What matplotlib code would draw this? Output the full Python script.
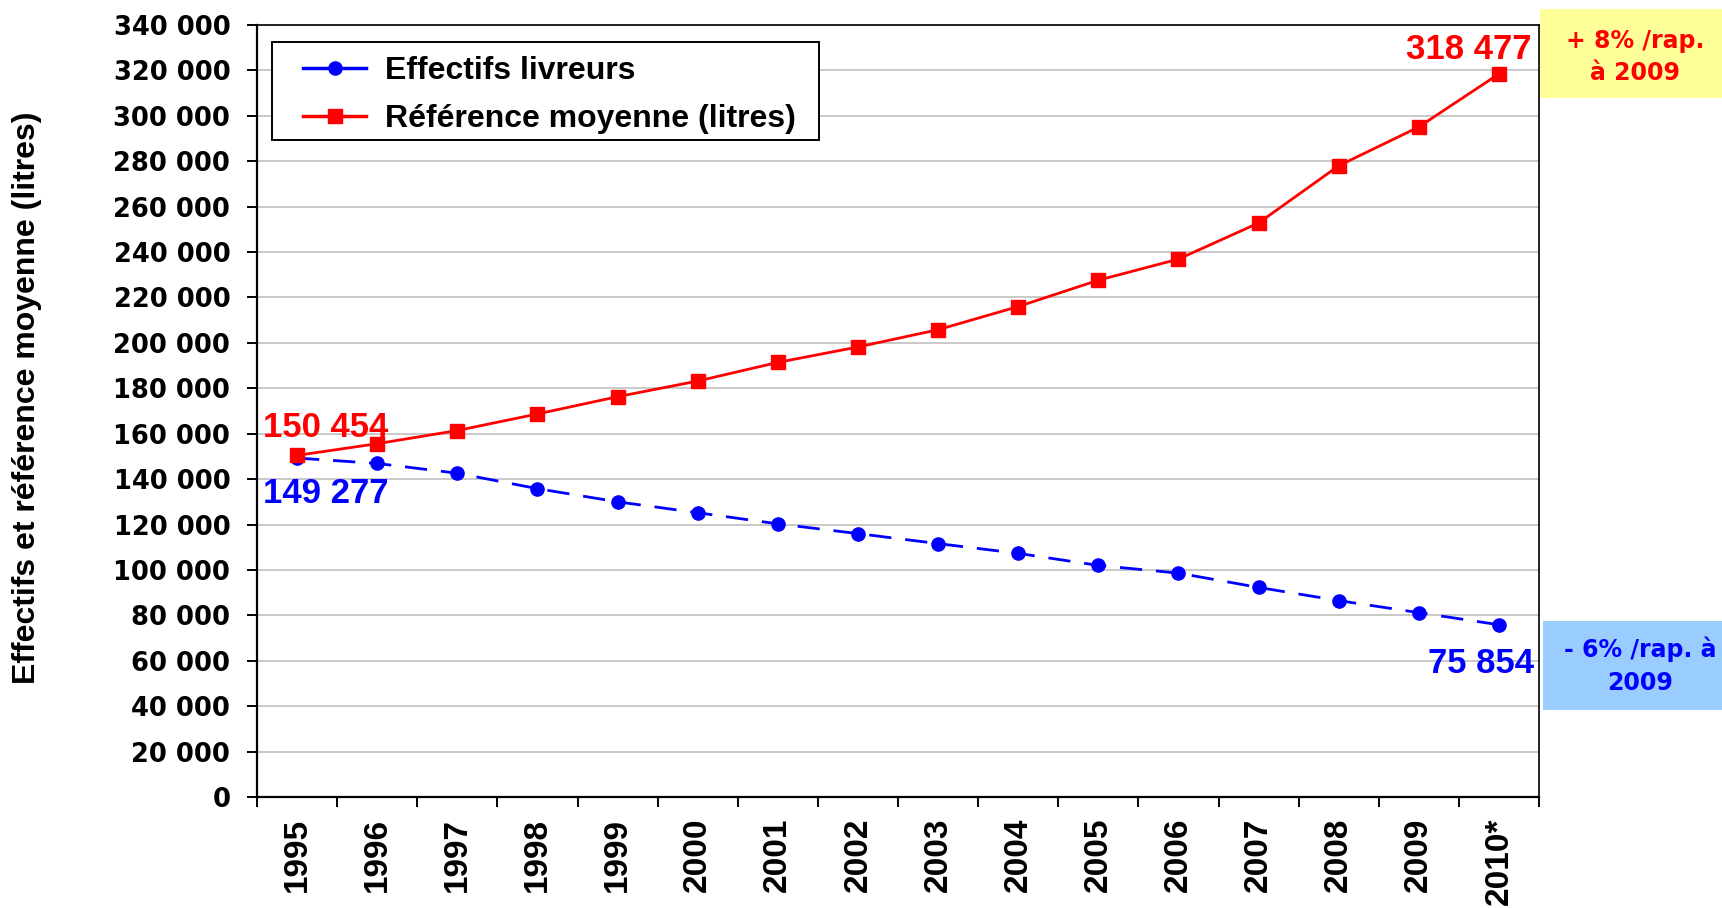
import matplotlib
matplotlib.use("Agg")
import matplotlib.pyplot as plt
from matplotlib.patches import Rectangle
from matplotlib.lines import Line2D

# data
years = ['1995', '1996', '1997', '1998', '1999', '2000', '2001', '2002',
         '2003', '2004', '2005', '2006', '2007', '2008', '2009', '2010*']
effectifs = [149277, 146900, 142600, 135800, 130000, 125200, 120300, 116000,
             111600, 107300, 102000, 98600, 92300, 86500, 81200, 75854]
reference = [150454, 155600, 161400, 168700, 176300, 183200, 191400, 198200,
             205800, 216000, 227600, 236900, 252800, 278000, 295100, 318477]
y_ticks = list(range(0, 340001, 20000))

plt.rcParams['font.family'] = ['Liberation Sans', 'DejaVu Sans']
plt.rcParams['font.weight'] = 'bold'

W, H = 1722, 908
fig = plt.figure(figsize=(W / 100, H / 100), dpi=100)
ax = fig.add_axes([257 / W, 1 - 797 / H, (1539 - 257) / W, (797 - 25) / H])

xs = [i + 0.5 for i in range(len(years))]
ax.plot(xs, effectifs, color='#0000ff', lw=2.0, dashes=(8, 5),
        marker='o', ms=9.5, label='Effectifs livreurs', zorder=3)
ax.plot(xs, reference, color='#ff0000', lw=2.0,
        marker='s', ms=9.5, label='Référence moyenne (litres)', zorder=4)

ax.set_xlim(0, len(years))
ax.set_ylim(0, 340000)

# category boundaries carry the tick marks, labels sit in the middle
ax.set_xticks(range(len(years) + 1))
ax.set_xticklabels([])
ax.set_xticks(xs, minor=True)
ax.set_xticklabels(years, minor=True, rotation=90, fontsize=24,
                   fontweight='bold', va='top', ha='center')
ax.tick_params(axis='x', which='major', length=7.2, width=1.4, direction='out')
ax.tick_params(axis='x', which='minor', length=0, pad=15)

ax.set_yticks(y_ticks)
ax.set_yticklabels([f"{v:,}".replace(",", " ") for v in y_ticks],
                   family='DejaVu Sans', fontsize=18.5, fontweight='bold')
ax.tick_params(axis='y', length=7.2, width=1.4, pad=12)

ax.grid(axis='y', color='#c0c0c0', lw=1.2)
ax.set_axisbelow(True)
for side in ['left', 'bottom']:
    ax.spines[side].set_linewidth(1.6)
for side in ['top', 'right']:
    ax.spines[side].set_linewidth(1.2)

# point labels
ann = dict(textcoords='offset pixels', fontsize=25, fontweight='bold')
ax.annotate(f"{reference[0]:,}".replace(",", " "), (xs[0], reference[0]),
            xytext=(-34, 18), ha='left', va='baseline', color='#ff0000', **ann)
ax.annotate(f"{effectifs[0]:,}".replace(",", " "), (xs[0], effectifs[0]),
            xytext=(-34, -45), ha='left', va='baseline', color='#0000ff', **ann)
ax.annotate(f"{reference[-1]:,}".replace(",", " "), (xs[-1], reference[-1]),
            xytext=(33, 15), ha='right', va='baseline', color='#ff0000', **ann)
ax.annotate(f"{effectifs[-1]:,}".replace(",", " "), (xs[-1], effectifs[-1]),
            xytext=(35, -48), ha='right', va='baseline', color='#0000ff', **ann)

# legend: frame drawn separately so the horizontal padding can be wider
ax.add_patch(Rectangle((272 / W, 1 - 140 / H), (819 - 272) / W, 98 / H,
                       transform=fig.transFigure, facecolor='white',
                       edgecolor='black', lw=1.4, zorder=5, clip_on=False))
handles = [Line2D([], [], color='#0000ff', lw=2.5, marker='o', ms=9.5),
           Line2D([], [], color='#ff0000', lw=2.5, marker='s', ms=9.5)]
leg = ax.legend(handles, ['Effectifs livreurs', 'Référence moyenne (litres)'],
                loc='upper left', bbox_to_anchor=(297 / W, 1 - 50 / H),
                bbox_transform=fig.transFigure, borderaxespad=0,
                prop={'size': 23, 'weight': 'bold'}, frameon=False,
                handlelength=1.95, handletextpad=0.6, borderpad=0.2,
                labelspacing=0.55)
leg.set_zorder(6)

# side boxes
fig.patches.append(Rectangle((1540 / W, 1 - 98 / H), 182 / W, 89 / H,
                             transform=fig.transFigure, facecolor='#ffff99',
                             edgecolor='none'))
fig.patches.append(Rectangle((1543 / W, 1 - 710 / H), 179 / W, 89 / H,
                             transform=fig.transFigure, facecolor='#99ccff',
                             edgecolor='none'))
fig.text(1635 / W, 1 - 57 / H, "+ 8% /rap.\nà 2009", ha='center', va='center',
         family='DejaVu Sans', fontsize=17, fontweight='bold', color='#ff0000',
         linespacing=1.45)
fig.text(1640 / W, 1 - 666 / H, "- 6% /rap. à\n2009", ha='center', va='center',
         family='DejaVu Sans', fontsize=17, fontweight='bold', color='#0000ff',
         linespacing=1.45)

fig.text(27 / W, 1 - 398 / H, "Effectifs et référence moyenne (litres)",
         rotation=90, ha='center', va='center', fontsize=23, fontweight='bold')

fig.savefig('out.png', dpi=100)
